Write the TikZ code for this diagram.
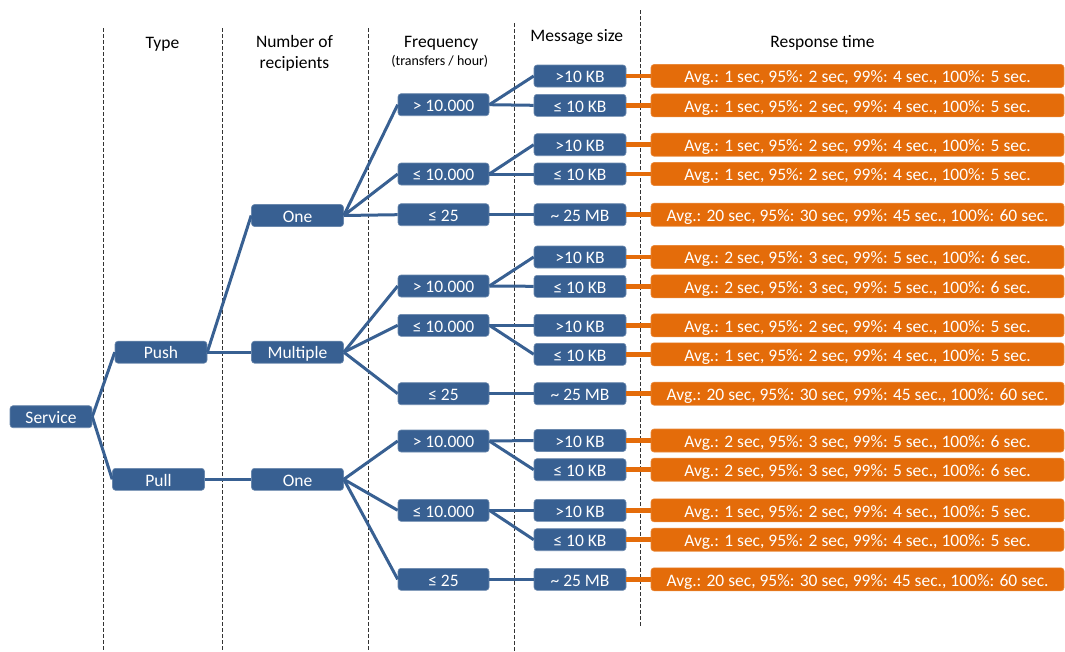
\documentclass[tikz,border=0pt]{standalone}
\usepackage{fontspec}
\setmainfont{Carlito}
\definecolor{boxblue}{RGB}{56,96,146}
\definecolor{boxorange}{RGB}{228,108,10}

\begin{document}
\begin{tikzpicture}
    [x=1pt, y=-1pt,
     block/.style={rectangle, rounded corners=3pt, fill=boxblue, draw=boxblue!75!white, line width=0.6pt,
                   text=white, minimum width=92pt, minimum height=22pt, inner sep=0pt,
                   text height=13.5pt, text depth=0pt, font=\fontsize{17.5}{21}\selectfont},
     answer/.style={block, fill=boxorange, draw=boxorange!80!white, minimum width=413pt, minimum height=23pt},
     head/.style={align=center, inner sep=0pt, font=\fontsize{17.5}{21}\selectfont},
     link/.style={boxblue, line width=3pt},
     olink/.style={boxorange, line width=4.6pt},
     guide/.style={black!80, dashed, dash pattern=on 3.5pt off 2.5pt, line width=0.8pt}]
    \useasboundingbox (0,0) rectangle (1065,651);
    % column separators
    \draw[guide] (103.5,28) -- (103.5,651);
    \draw[guide] (222.5,28) -- (222.5,651);
    \draw[guide] (368.5,28) -- (368.5,651);
    \draw[guide] (514,23) -- (514,651);
    \draw[guide] (640.7,10) -- (640.7,627);
    % column titles
    \node[head] (typeT) at (162.5,44.5) {Type};
    \node[head] (recT) at (294.5,53.5) {Number of\\recipients};
    \node[head] (freqT) at (441.3,43.5) {Frequency};
    \node[head, font=\fontsize{14}{17}\selectfont] (freqU) at (439.8,61.5) {(transfers / hour)};
    \node[head] (sizeT) at (576.7,37) {Message size};
    \node[head] (respT) at (822.5,42.5) {Response time};
    % tree
    \node[block, minimum width=82pt] (service) at (51,416.7) {Service};
    \node[block] (push) at (161,352.2) {Push};
    \node[block] (pull) at (158.5,479.3) {Pull};
    \node[block] (one) at (297.5,215.5) {One};
    \node[block] (multiple) at (297.5,352.2) {Multiple};
    \node[block] (onepull) at (297.5,479.3) {One};
    \node[block, minimum width=91pt] (f1) at (443.5,104.7) {> 10.000};
    \node[block, minimum width=91pt] (f2) at (443.5,174) {≤ 10.000};
    \node[block, minimum width=91pt] (f3) at (443.5,214.7) {≤ 25};
    \node[block, minimum width=91pt] (f4) at (443.5,286) {> 10.000};
    \node[block, minimum width=91pt] (f5) at (443.5,325.3) {≤ 10.000};
    \node[block, minimum width=91pt] (f6) at (443.5,393.7) {≤ 25};
    \node[block, minimum width=91pt] (f7) at (443.5,441) {> 10.000};
    \node[block, minimum width=91pt] (f8) at (443.5,510.3) {≤ 10.000};
    \node[block, minimum width=91pt] (f9) at (443.5,579.3) {≤ 25};
    \node[block] (m1) at (580,76) {>10 KB};
    \node[block] (m2) at (580,105.3) {≤ 10 KB};
    \node[block] (m3) at (580,144.7) {>10 KB};
    \node[block] (m4) at (580,174) {≤ 10 KB};
    \node[block] (m5) at (580,214.7) {\textasciitilde\ 25 MB};
    \node[block] (m6) at (580,257) {>10 KB};
    \node[block] (m7) at (580,286.3) {≤ 10 KB};
    \node[block] (m8) at (580,325.3) {>10 KB};
    \node[block] (m9) at (580,354.3) {≤ 10 KB};
    \node[block] (m10) at (580,393.7) {\textasciitilde\ 25 MB};
    \node[block] (m11) at (580,440.5) {>10 KB};
    \node[block] (m12) at (580,469.7) {≤ 10 KB};
    \node[block] (m13) at (580,510.3) {>10 KB};
    \node[block] (m14) at (580,539.7) {≤ 10 KB};
    \node[block] (m15) at (580,579.3) {\textasciitilde\ 25 MB};
    \node[answer] (r1) at (857.5,76) {Avg.: 1 sec, 95\%: 2 sec, 99\%: 4 sec., 100\%: 5 sec.};
    \node[answer] (r2) at (857.5,105.3) {Avg.: 1 sec, 95\%: 2 sec, 99\%: 4 sec., 100\%: 5 sec.};
    \node[answer] (r3) at (857.5,144.7) {Avg.: 1 sec, 95\%: 2 sec, 99\%: 4 sec., 100\%: 5 sec.};
    \node[answer] (r4) at (857.5,174) {Avg.: 1 sec, 95\%: 2 sec, 99\%: 4 sec., 100\%: 5 sec.};
    \node[answer] (r5) at (857.5,214.7) {Avg.: 20 sec, 95\%: 30 sec, 99\%: 45 sec., 100\%: 60 sec.};
    \node[answer] (r6) at (857.5,257) {Avg.: 2 sec, 95\%: 3 sec, 99\%: 5 sec., 100\%: 6 sec.};
    \node[answer] (r7) at (857.5,286.3) {Avg.: 2 sec, 95\%: 3 sec, 99\%: 5 sec., 100\%: 6 sec.};
    \node[answer] (r8) at (857.5,325.3) {Avg.: 1 sec, 95\%: 2 sec, 99\%: 4 sec., 100\%: 5 sec.};
    \node[answer] (r9) at (857.5,354.3) {Avg.: 1 sec, 95\%: 2 sec, 99\%: 4 sec., 100\%: 5 sec.};
    \node[answer] (r10) at (857.5,393.7) {Avg.: 20 sec, 95\%: 30 sec, 99\%: 45 sec., 100\%: 60 sec.};
    \node[answer] (r11) at (857.5,440.5) {Avg.: 2 sec, 95\%: 3 sec, 99\%: 5 sec., 100\%: 6 sec.};
    \node[answer] (r12) at (857.5,469.7) {Avg.: 2 sec, 95\%: 3 sec, 99\%: 5 sec., 100\%: 6 sec.};
    \node[answer] (r13) at (857.5,510.3) {Avg.: 1 sec, 95\%: 2 sec, 99\%: 4 sec., 100\%: 5 sec.};
    \node[answer] (r14) at (857.5,539.7) {Avg.: 1 sec, 95\%: 2 sec, 99\%: 4 sec., 100\%: 5 sec.};
    \node[answer] (r15) at (857.5,579.3) {Avg.: 20 sec, 95\%: 30 sec, 99\%: 45 sec., 100\%: 60 sec.};
    % connectors
    \draw[link] (service.east) -- (push.west);
    \draw[link] (service.east) -- (pull.west);
    \draw[link] (push.east) -- (one.west);
    \draw[link] (push.east) -- (multiple.west);
    \draw[link] (pull.east) -- (onepull.west);
    \draw[link] (one.east) -- (f1.west);
    \draw[link] (one.east) -- (f2.west);
    \draw[link] (one.east) -- (f3.west);
    \draw[link] (multiple.east) -- (f4.west);
    \draw[link] (multiple.east) -- (f5.west);
    \draw[link] (multiple.east) -- (f6.west);
    \draw[link] (onepull.east) -- (f7.west);
    \draw[link] (onepull.east) -- (f8.west);
    \draw[link] (onepull.east) -- (f9.west);
    \draw[link] (f1.east) -- (m1.west);
    \draw[link] (f1.east) -- (m2.west);
    \draw[link] (f2.east) -- (m3.west);
    \draw[link] (f2.east) -- (m4.west);
    \draw[link] (f3.east) -- (m5.west);
    \draw[link] (f4.east) -- (m6.west);
    \draw[link] (f4.east) -- (m7.west);
    \draw[link] (f5.east) -- (m8.west);
    \draw[link] (f5.east) -- (m9.west);
    \draw[link] (f6.east) -- (m10.west);
    \draw[link] (f7.east) -- (m11.west);
    \draw[link] (f7.east) -- (m12.west);
    \draw[link] (f8.east) -- (m13.west);
    \draw[link] (f8.east) -- (m14.west);
    \draw[link] (f9.east) -- (m15.west);
    \draw[olink] (m1.east) -- (r1.west);
    \draw[olink] (m2.east) -- (r2.west);
    \draw[olink] (m3.east) -- (r3.west);
    \draw[olink] (m4.east) -- (r4.west);
    \draw[olink] (m5.east) -- (r5.west);
    \draw[olink] (m6.east) -- (r6.west);
    \draw[olink] (m7.east) -- (r7.west);
    \draw[olink] (m8.east) -- (r8.west);
    \draw[olink] (m9.east) -- (r9.west);
    \draw[olink] (m10.east) -- (r10.west);
    \draw[olink] (m11.east) -- (r11.west);
    \draw[olink] (m12.east) -- (r12.west);
    \draw[olink] (m13.east) -- (r13.west);
    \draw[olink] (m14.east) -- (r14.west);
    \draw[olink] (m15.east) -- (r15.west);
\end{tikzpicture}
\end{document}
